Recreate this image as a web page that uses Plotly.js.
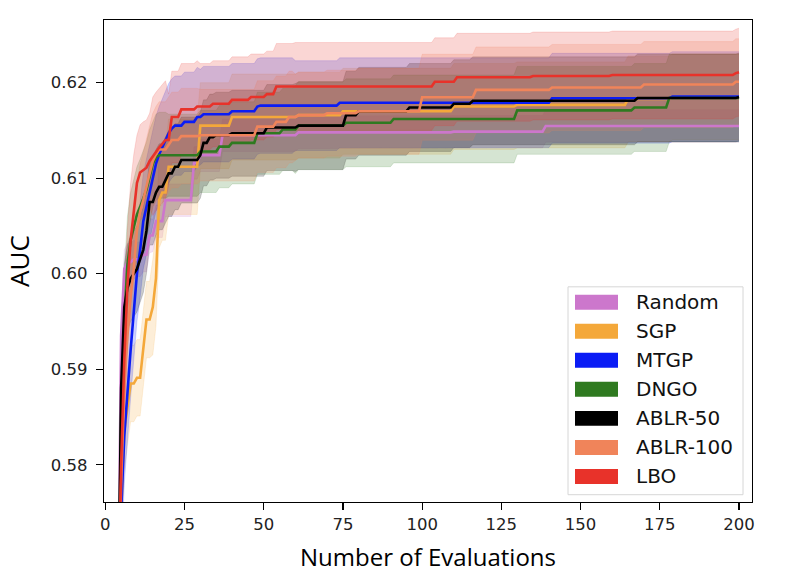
<!DOCTYPE html>
<html>
<head>
<meta charset="utf-8">
<script src="https://cdn.plot.ly/plotly-3.0.1.min.js"></script>
<style>
  html, body { margin: 0; padding: 0; background: #fff; }
  #chart { width: 790px; height: 588px; }
</style>
</head>
<body>
<div id="chart"></div>
<script>
// series names and colours, in drawing order (LBO ends on top)
const names = ["Random", "SGP", "MTGP", "DNGO", "ABLR-50", "ABLR-100", "LBO"];
const colors = ["#cc77cc", "#f4a83a", "#0a1cf5", "#2f7a20", "#000000", "#f0845a", "#e8322a"];

// mean AUC; each value holds until the next listed evaluation
const randomX = [4, 5, 6, 7, 9, 12, 14, 16, 19, 28, 30, 37, 61, 110, 139, 200];
const randomY = [0.562, 0.5935, 0.6005, 0.6012, 0.6015, 0.602, 0.604, 0.6055, 0.6077, 0.6116, 0.6124, 0.6145, 0.6148, 0.61487, 0.61547, 0.61547];

const sgpX = [4, 5, 6, 7, 8, 10, 12, 13, 15, 16, 17, 18, 20, 30, 40, 61, 75, 110, 130, 165, 179, 200];
const sgpY = [0.56, 0.575, 0.5835, 0.5861, 0.5885, 0.5891, 0.592, 0.5952, 0.5965, 0.5995, 0.6077, 0.6085, 0.6112, 0.6155, 0.6164, 0.6166, 0.617, 0.6175, 0.61767, 0.6183, 0.6185, 0.6185];

const mtgpX = [4, 5, 6, 7, 8, 9, 10, 11, 12, 13, 14, 15, 16, 17, 18, 19, 20, 21, 22, 25, 29, 31, 40, 48, 49, 74, 141, 179, 200];
const mtgpY = [0.562, 0.575, 0.583, 0.588, 0.592, 0.596, 0.6, 0.6025, 0.6055, 0.607, 0.6085, 0.6098, 0.6115, 0.6125, 0.6133, 0.614, 0.6147, 0.6152, 0.6155, 0.6159, 0.6164, 0.6167, 0.617, 0.6175, 0.6176, 0.6179, 0.61837, 0.61854, 0.61854];

const dngoX = [4, 5, 6, 7, 8, 9, 10, 11, 12, 13, 14, 15, 16, 17, 30, 36, 40, 48, 56, 61, 76, 91, 130, 167, 178, 200];
const dngoY = [0.562, 0.585, 0.595, 0.601, 0.6035, 0.605, 0.6062, 0.607, 0.6078, 0.6088, 0.6101, 0.6115, 0.6122, 0.6124, 0.6128, 0.6133, 0.6137, 0.6147, 0.6151, 0.6155, 0.6158, 0.6162, 0.6171, 0.6174, 0.6184, 0.6184];

const ablr50X = [4, 5, 6, 7, 8, 9, 10, 11, 12, 13, 14, 16, 17, 19, 20, 22, 24, 30, 31, 33, 35, 40, 51, 61, 76, 80, 96, 110, 116, 168, 200];
const ablr50Y = [0.56, 0.588, 0.5965, 0.5985, 0.5995, 0.6, 0.6005, 0.6015, 0.6025, 0.6045, 0.6075, 0.6085, 0.6091, 0.6098, 0.6105, 0.6112, 0.6119, 0.6124, 0.6137, 0.6143, 0.6145, 0.6147, 0.6153, 0.6155, 0.6166, 0.617, 0.6174, 0.6178, 0.6181, 0.6184, 0.6185];

const ablr100X = [4, 5, 6, 7, 8, 9, 10, 11, 12, 13, 14, 15, 16, 17, 20, 21, 24, 30, 48, 54, 58, 61, 70, 80, 100, 117, 141, 170, 199, 200];
const ablr100Y = [0.561, 0.578, 0.588, 0.5935, 0.5975, 0.6005, 0.6045, 0.6065, 0.6077, 0.6092, 0.6105, 0.6118, 0.6125, 0.613, 0.6135, 0.614, 0.6144, 0.6145, 0.6154, 0.6159, 0.6164, 0.6166, 0.6168, 0.617, 0.61847, 0.61924, 0.6195, 0.6198, 0.6201, 0.6201];

const lboX = [4, 5, 6, 7, 8, 9, 10, 11, 12, 13, 14, 15, 16, 17, 18, 19, 21, 24, 29, 34, 40, 46, 51, 54, 104, 111, 135, 160, 199, 200];
const lboY = [0.562, 0.58, 0.591, 0.5987, 0.6035, 0.6065, 0.6095, 0.6106, 0.6109, 0.6111, 0.6118, 0.6123, 0.6128, 0.6132, 0.6136, 0.614, 0.6164, 0.6172, 0.6175, 0.6178, 0.6182, 0.6185, 0.6188, 0.6196, 0.6201, 0.62056, 0.6207, 0.6208, 0.621, 0.6211];

// spread of the shaded bands, changing at these evaluations
const stdX = [4, 10, 15, 20, 30, 60];
const randomStd = [0.002, 0.0018, 0.0017, 0.0017, 0.0017, 0.0017];
const sgpStd = [0.004, 0.004, 0.005, 0.005, 0.0045, 0.0045];
const mtgpStd = [0.005, 0.005, 0.005, 0.0052, 0.005, 0.0047];
const dngoStd = [0.005, 0.005, 0.0045, 0.0043, 0.0043, 0.0046];
const ablr50Std = [0.0045, 0.0045, 0.0045, 0.0045, 0.0045, 0.0046];
const ablr100Std = [0.005, 0.005, 0.005, 0.005, 0.0048, 0.0045];
const lboStd = [0.006, 0.005, 0.0062, 0.0048, 0.0045, 0.0046];

const xTicks = [0, 25, 50, 75, 100, 125, 150, 175, 200];
const yTicks = [0.58, 0.59, 0.60, 0.61, 0.62];

const series = [
  [randomX, randomY, randomStd],
  [sgpX, sgpY, sgpStd],
  [mtgpX, mtgpY, mtgpStd],
  [dngoX, dngoY, dngoStd],
  [ablr50X, ablr50Y, ablr50Std],
  [ablr100X, ablr100Y, ablr100Std],
  [lboX, lboY, lboStd],
];

function stepAt(xs, ys, x) {
  let v = ys[0];
  for (let i = 0; i < xs.length; i++) if (xs[i] <= x) v = ys[i];
  return v;
}

// values are per evaluation: hold the last value until one step before the change,
// so lines are drawn point to point like the original plot
function perEval(xs, ys) {
  let ox = [xs[0]], oy = [ys[0]];
  for (let i = 1; i < xs.length; i++) {
    if (xs[i] - xs[i - 1] > 1) { ox.push(xs[i] - 1); oy.push(ys[i - 1]); }
    ox.push(xs[i]); oy.push(ys[i]);
  }
  return [ox, oy];
}

function rgba(hex, a) {
  const n = parseInt(hex.slice(1), 16);
  return `rgba(${(n >> 16) & 255},${(n >> 8) & 255},${n & 255},${a})`;
}

let bands = [], lines = [];
series.forEach(([xs, ys, sd], i) => {
  let bx = Array.from(new Set([...xs, ...stdX])).sort((a, b) => a - b);
  let [lx, lo] = perEval(bx, bx.map((x) => stepAt(xs, ys, x) - stepAt(stdX, sd, x)));
  let [hx, hi] = perEval(bx, bx.map((x) => stepAt(xs, ys, x) + stepAt(stdX, sd, x)));
  bands.push({
    x: lx, y: lo, type: "scatter", mode: "lines",
    line: { width: 0.6, color: rgba(colors[i], 0.25) },
    hoverinfo: "skip", showlegend: false,
  });
  bands.push({
    x: hx, y: hi, type: "scatter", mode: "lines", fill: "tonexty",
    fillcolor: rgba(colors[i], 0.2),
    line: { width: 0.6, color: rgba(colors[i], 0.25) },
    hoverinfo: "skip", showlegend: false,
  });
  let [mx, my] = perEval(xs, ys);
  lines.push({
    x: mx, y: my, type: "scatter", mode: "lines", name: names[i],
    line: { width: 2.6, color: colors[i] },
    showlegend: false,
  });
});

// legend drawn by hand: matplotlib style patches
const plotL = 104, plotR = 752, plotT = 20, plotB = 502.3;
const px = (v) => (v - plotL) / (plotR - plotL);
const py = (v) => (plotB - v) / (plotB - plotT);

let shapes = [{
  type: "rect", xref: "paper", yref: "paper", layer: "above",
  x0: px(568), x1: px(743), y0: py(495), y1: py(287),
  fillcolor: "rgba(255,255,255,0.85)", line: { color: "#d6d6d6", width: 1 },
}];
let annotations = [];
names.forEach((n, i) => {
  let cy = 302.5 + i * 29.03;
  shapes.push({
    type: "rect", xref: "paper", yref: "paper", layer: "above",
    x0: px(575), x1: px(618), y0: py(cy + 7.5), y1: py(cy - 7.5),
    fillcolor: colors[i], line: { width: 0 },
  });
  annotations.push({
    xref: "paper", yref: "paper", x: px(634), y: py(cy),
    xanchor: "left", yanchor: "middle", showarrow: false, text: n,
    font: { family: "DejaVu Sans", size: 20, color: "#111" },
  });
});

const axisCommon = {
  showgrid: false, zeroline: false, showline: true, mirror: true,
  linecolor: "#000", linewidth: 1.3, ticks: "outside", ticklen: 7,
  tickwidth: 1.2, tickcolor: "#000",
  tickfont: { family: "DejaVu Sans", size: 16.5, color: "#222" },
};

const layout = {
  width: 790, height: 588,
  margin: { l: 104, r: 38, t: 20, b: 85.7 },
  paper_bgcolor: "#fff", plot_bgcolor: "#fff",
  showlegend: false,
  xaxis: Object.assign({}, axisCommon, {
    range: [-0.4, 204.1], tickvals: xTicks, ticktext: xTicks.map(String),
    title: { text: "Number of Evaluations", standoff: 16,
      font: { family: "Open Sans", size: 24, color: "#000" } },
  }),
  yaxis: Object.assign({}, axisCommon, {
    range: [0.5761, 0.62656], tickvals: yTicks, ticktext: yTicks.map((v) => v.toFixed(2)),
    ticklabelstandoff: 5,
    title: { text: "AUC", standoff: 13,
      font: { family: "Open Sans", size: 26, color: "#000" } },
  }),
  shapes: shapes,
  annotations: annotations,
};

Plotly.newPlot("chart", bands.concat(lines), layout, { displayModeBar: false, staticPlot: true });
</script>
</body>
</html>
